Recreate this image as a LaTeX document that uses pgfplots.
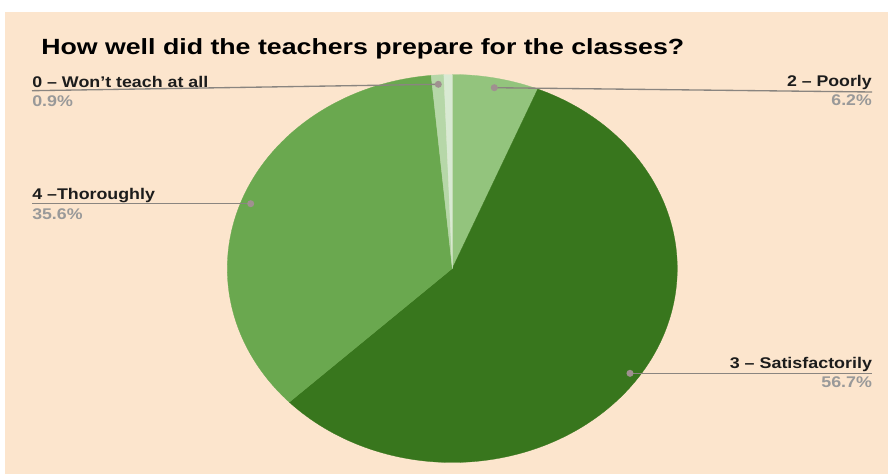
\documentclass[border=0pt]{standalone}
\usepackage{pgfplots}
\pgfplotsset{compat=1.18}
\usepackage{pgfplotstable}
\usepackage{graphicx}
\usepackage{fontspec}
\setmainfont{Liberation Sans}

\definecolor{bg}{HTML}{FCE5CD}
\definecolor{cPoor}{HTML}{93C47D}
\definecolor{cSat}{HTML}{38761D}
\definecolor{cThor}{HTML}{6AA84F}
\definecolor{cNone}{HTML}{B6D7A8}
\definecolor{cOne}{HTML}{D9EAD3}
\definecolor{leader}{HTML}{8A8580}
\definecolor{dot}{HTML}{A09090}
\definecolor{pct}{HTML}{999999}
\definecolor{txt}{HTML}{1C1C1C}

% shares in percent, clockwise from 12 o'clock
% 2 Poorly, 3 Satisfactorily, 4 Thoroughly, 0 Won't teach at all, 1 (no label)
\pgfplotstableread{
value
6.2
56.7
35.6
0.9
0.6
}\piedata

\pgfmathsetmacro\aA{0}
\pgfplotstablegetelem{0}{value}\of\piedata\pgfmathsetmacro\aB{\aA+3.6*\pgfplotsretval}
\pgfplotstablegetelem{1}{value}\of\piedata\pgfmathsetmacro\aC{\aB+3.6*\pgfplotsretval}
\pgfplotstablegetelem{2}{value}\of\piedata\pgfmathsetmacro\aD{\aC+3.6*\pgfplotsretval}
\pgfplotstablegetelem{3}{value}\of\piedata\pgfmathsetmacro\aE{\aD+3.6*\pgfplotsretval}
\pgfplotstablegetelem{4}{value}\of\piedata\pgfmathsetmacro\aF{\aE+3.6*\pgfplotsretval}

\newcommand\lab[2]{{\fontsize{11.6pt}{14pt}\selectfont\bfseries\color{txt}\resizebox{#1}{\height}{#2}}}
\newcommand\pc[2]{{\fontsize{11.6pt}{14pt}\selectfont\bfseries\color{pct}\resizebox{#1}{\height}{#2}}}

\pgfplotsset{
    slice/.style={draw=#1, fill=#1, line width=0.2pt, samples=60},
    leaderline/.style={color=leader, solid, line width=1pt, mark=*, mark indices={1},
        mark size=2.1pt, mark options={fill=dot, draw=dot, solid}},
}

\begin{document}
\begin{tikzpicture}
\begin{axis}[
    width=666pt, height=355.5pt, scale only axis,
    xmin=0, xmax=888, ymin=0, ymax=474, y dir=reverse,
    hide axis, clip=false,
]
\fill[white] (axis cs:0,0) rectangle (axis cs:888,474);
\fill[bg] (axis cs:5,12) rectangle (axis cs:888,474);

% slices
\addplot[slice=cPoor, domain=\aA:\aB]
    ({452.3+225*sin(x)},{268.5-194*cos(x)}) -- (axis cs:452.3,268.5) -- cycle;
\addplot[slice=cSat, domain=\aB:\aC, samples=140]
    ({452.3+225*sin(x)},{268.5-194*cos(x)}) -- (axis cs:452.3,268.5) -- cycle;
\addplot[slice=cThor, domain=\aC:\aD, samples=120]
    ({452.3+225*sin(x)},{268.5-194*cos(x)}) -- (axis cs:452.3,268.5) -- cycle;
\addplot[slice=cNone, domain=\aD:\aE, samples=10]
    ({452.3+225*sin(x)},{268.5-194*cos(x)}) -- (axis cs:452.3,268.5) -- cycle;
\addplot[slice=cOne, domain=\aE:\aF, samples=10]
    ({452.3+225*sin(x)},{268.5-194*cos(x)}) -- (axis cs:452.3,268.5) -- cycle;

% leader lines
\addplot[leaderline] coordinates {(438.3,84.3) (32,90.7)};
\addplot[leaderline] coordinates {(494.3,87.7) (872,92)};
\addplot[leaderline] coordinates {(250.7,203.7) (32,203.7)};
\addplot[leaderline] coordinates {(630,373.3) (872,373.3)};

% title and labels
\node[anchor=base west, inner sep=0] at (axis cs:41,55)
    {\fontsize{16.5pt}{19pt}\selectfont\bfseries\resizebox{482.25pt}{\height}{How well did the teachers prepare for the classes?}};
\node[anchor=base west, inner sep=0] at (axis cs:32,87.3) {\lab{132pt}{0 – Won’t teach at all}};
\node[anchor=base west, inner sep=0] at (axis cs:32,106.6) {\pc{30.5pt}{0.9\%}};
\node[anchor=base east, inner sep=0] at (axis cs:872,86.7) {\lab{63.5pt}{2 – Poorly}};
\node[anchor=base east, inner sep=0] at (axis cs:872,106) {\pc{30.2pt}{6.2\%}};
\node[anchor=base west, inner sep=0] at (axis cs:32,199.3) {\lab{92pt}{4 –Thoroughly}};
\node[anchor=base west, inner sep=0] at (axis cs:32,219) {\pc{37.7pt}{35.6\%}};
\node[anchor=base east, inner sep=0] at (axis cs:872.3,368.3) {\lab{106.7pt}{3 – Satisfactorily}};
\node[anchor=base east, inner sep=0] at (axis cs:872.3,387.7) {\pc{38pt}{56.7\%}};
\end{axis}
\end{tikzpicture}
\end{document}
